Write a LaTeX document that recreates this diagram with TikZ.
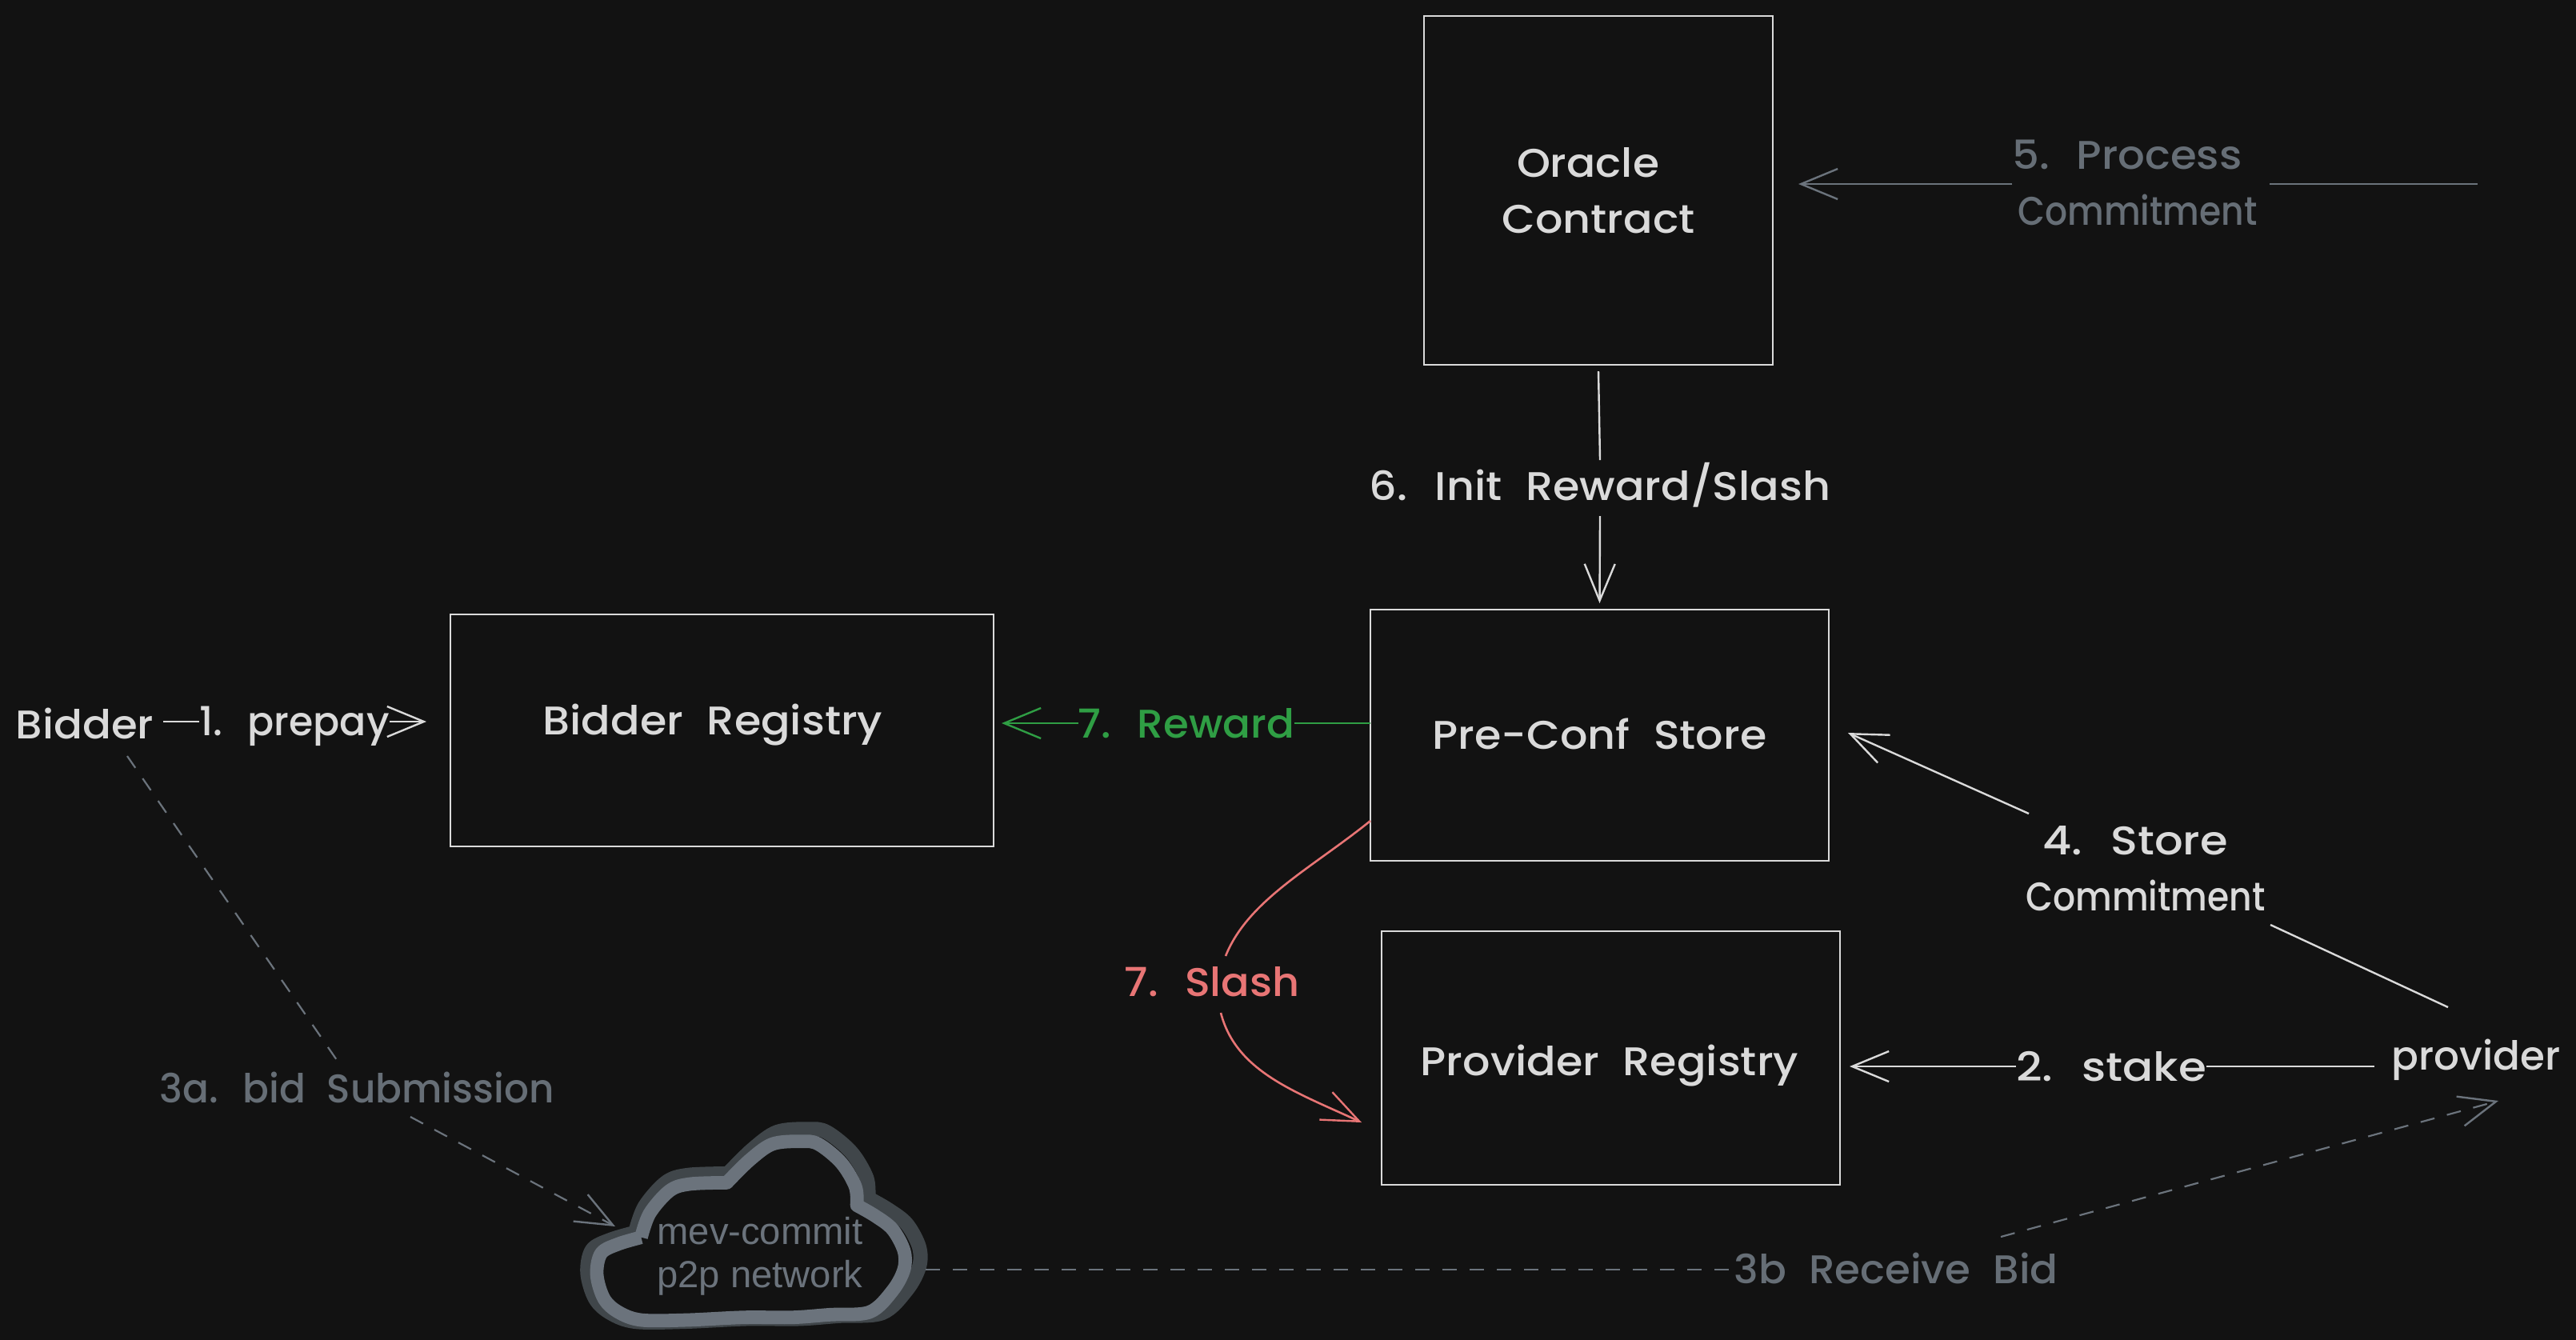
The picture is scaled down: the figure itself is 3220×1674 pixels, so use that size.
\documentclass[tikz,border=0pt]{standalone}
\usepackage{fontspec}
\setmainfont{Poppins}[UprightFont=* Medium]
\newfontfamily\helv{Liberation Sans}
\usetikzlibrary{arrows.meta}
\definecolor{bgc}{HTML}{121212}
\definecolor{ink}{HTML}{DADADA}
\definecolor{greyc}{HTML}{6B737C}
\definecolor{greyt}{HTML}{666E76}
\definecolor{darkc}{HTML}{40464A}
\definecolor{greenc}{HTML}{2F9E44}
\definecolor{redc}{HTML}{E87575}
\newcommand{\hs}[2]{\scalebox{#1}[1]{#2}}
\newcommand{\handfont}{\fontsize{12.5}{17.5}\selectfont\spaceskip=.55em\relax}
\newcommand{\cloudshape}{plot[smooth,tension=.55] coordinates {(340,560) (260,585) (200,620) (185,700) (210,790) (260,840) (340,870) (500,870) (700,860) (870,860) (1000,850) (1140,840) (1220,760) (1260,680) (1260,610) (1220,530) (1160,480) (1095,440)}
 -- plot[smooth,tension=.55] coordinates {(1095,440) (1090,370) (1040,280) (960,210) (900,200) (800,210) (720,270) (640,355)}
 -- plot[smooth,tension=.55] coordinates {(640,355) (510,360) (440,385) (370,470) (340,560)}}
\tikzset{
 sketchbox/.style={draw=ink,line width=.7pt,inner sep=0,outer sep=0,text=ink,font=\handfont,align=center},
 lbl/.style={inner sep=0,outer sep=0,text=ink,font=\handfont,align=center},
 wire/.style={draw=ink,line width=.6pt},
 tipped/.style={-{Straight Barb[length=11.5pt,width=9.5pt,line width=.6pt]}},
 dashline/.style={draw=greyc,line width=.55pt,dash pattern=on 4.5pt off 4pt},
}
\begin{document}
\begin{tikzpicture}[x=0.25pt,y=-0.25pt]
\useasboundingbox (0,0) rectangle (3220,1674);
\fill[bgc] (-8,-8) rectangle (3228,1682);
% boxes
\node[sketchbox,minimum width=109pt,minimum height=109pt] (oracle) at (1998,238) {\hs{1.07}{Oracle}\hspace*{6.5pt}\\\hs{1.08}{Contract}};
\node[sketchbox,minimum width=143.25pt,minimum height=78.5pt] (store) at (1999.5,919) {};
\node[lbl] (storet) at (1999.5,917) {\hs{1.08}{Pre-Conf Store}};
\node[sketchbox,minimum width=169.75pt,minimum height=72.5pt] (breg) at (902.5,913) {};
\node[lbl] (bregt) at (891,906) {\hs{1.08}{Bidder Registry}};
\node[sketchbox,minimum width=143.25pt,minimum height=79.25pt] (preg) at (2013.5,1322.5) {};
\node[lbl] (pregt) at (2012,1332) {\hs{1.08}{Provider Registry}};
% labels
\node[lbl] (bidder) at (106,904) {\hs{1.06}{Bidder}};
\node[lbl] (prepay) at (368,908) {\hs{.98}{1. prepay}};
\node[lbl,text=greyt] (process) at (2672,228) {\hs{1.06}{5. Process}\hspace*{6.5pt}\\\hs{.88}{Commitment}};
\node[lbl] (init) at (2000,606) {\hs{1.08}{6. Init Reward/Slash}};
\node[lbl,text=greenc] (reward) at (1483,904) {\hs{1.03}{7. Reward}};
\node[lbl,text=redc] (slash) at (1515,1227) {\hs{1.05}{7. Slash}};
\node[lbl] (commit) at (2682,1086) {\hs{1.12}{4. Store}\hspace*{6.5pt}\\\hs{.88}{Commitment}};
\node[lbl] (provider) at (3095,1325) {\hs{1}{provider}};
\node[lbl] (stake) at (2639,1333) {\hs{1.13}{2. stake}};
\node[lbl,text=greyt] (bid) at (446,1359) {\hs{.97}{3a. bid Submission}};
\node[lbl,text=greyt] (receive) at (2370,1585) {\hs{1.03}{3b Receive Bid}};
% cloud
\begin{scope}[shift={(680,1360)},xscale=1/2.8,yscale=1/3]
 \begin{scope}[shift={(732.5,515)},xscale=1.08,yscale=1.078,shift={(-722.5,-535)}]
  \draw[darkc,line width=4.5pt,line join=round] \cloudshape;
 \end{scope}
 \draw[greyc,line width=4.2pt,line join=round] \cloudshape;
\end{scope}
\node[inner sep=0,text=greyc,align=left,font=\helv\fontsize{11.8}{13.5}\selectfont] (cloud) at (950,1570) {mev-commit\\p2p network};
% free ends
\coordinate (processR) at (3097,230);
\coordinate (bidS) at (159,945);
\coordinate (cloudL) at (769,1533);
\coordinate (cloudR) at (1157,1587);
\coordinate (provS) at (3123,1376);
\coordinate (storeC) at (1713,1026);
\coordinate (pregC) at (1702,1403);
\coordinate (commitA) at (3060,1259);
\coordinate (commitB) at (2838,1156);
\coordinate (commitC) at (2536,1017);
\coordinate (storeT) at (2310,916);
\coordinate (initA) at (2000,575);
\coordinate (initB) at (2000,645);
\coordinate (bidA) at (421,1325);
\coordinate (bidB) at (513,1396);
\coordinate (recA) at (2501,1546);
\coordinate (slashA) at (1532,1195);
\coordinate (slashB) at (1526,1266);
% connectors
\draw[wire] ([xshift=3pt,yshift=.5pt]bidder.east) -- ([yshift=1.5pt]prepay.west);
\draw[wire,tipped] ([yshift=1.5pt]prepay.east) -- ([xshift=-7.5pt,yshift=1.5pt]breg.west |- prepay.east);
\draw[wire,draw=greyc] (processR) -- ([xshift=2pt]process.east |- processR);
\draw[wire,draw=greyc,tipped] (process.west |- processR) -- ([xshift=8pt]oracle.east |- processR);
\draw[wire] ([yshift=-2pt]oracle.south) -- (initA);
\draw[wire,tipped] (initB) -- ([yshift=2pt]store.north);
\draw[wire,draw=greenc] (store.west |- reward.east) -- (reward.east);
\draw[wire,draw=greenc,tipped] (reward.west) -- ([xshift=2.5pt]breg.east |- reward.west);
\draw[redc,line width=.65pt] (storeC) .. controls (1640,1085) and (1560,1125) .. (slashA);
\draw[redc,line width=.65pt,tipped] (slashB) .. controls (1545,1340) and (1620,1365) .. (pregC);
\draw[wire] (commitA) -- (commitB);
\draw[wire,tipped] (commitC) -- (storeT);
\draw[wire] ([xshift=-5.5pt]provider.west |- stake.east) -- (stake.east);
\draw[wire,tipped] (stake.west) -- ([xshift=3pt]preg.east |- stake.west);
\draw[dashline] (bidS) -- (bidA);
\draw[dashline,tipped] (bidB) -- (cloudL);
\draw[dashline] (cloudR) -- (receive.west |- cloudR);
\draw[dashline,tipped] (recA) -- (provS);
\end{tikzpicture}
\end{document}
